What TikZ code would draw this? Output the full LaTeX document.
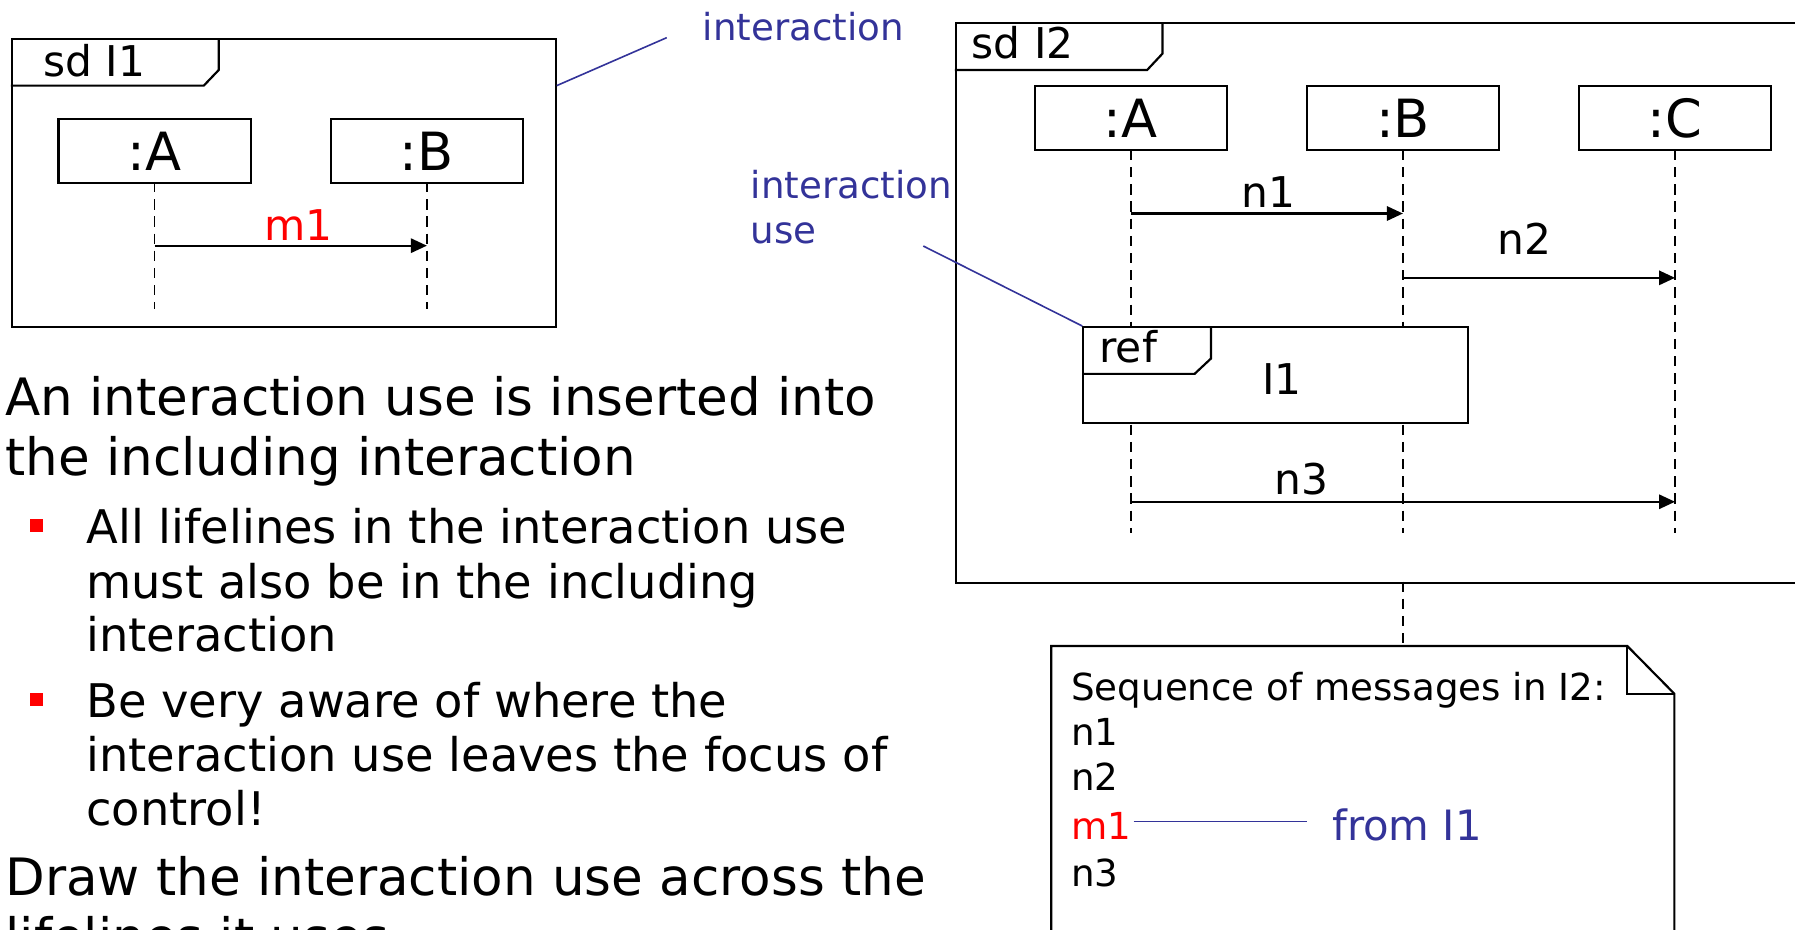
\documentclass[tikz,border=0pt]{standalone}
\usepackage{fontspec}
\setmainfont{DejaVu Sans}
\usetikzlibrary{arrows.meta,calc}
\definecolor{annoblue}{RGB}{51,51,153}
\definecolor{msgred}{RGB}{255,0,0}
\tikzset{
  frame/.style={draw, line width=1.9pt, rectangle, anchor=north west, inner sep=0pt},
  tabline/.style={line width=1.9pt},
  life/.style={draw, line width=1.9pt, fill=white, rectangle, minimum width=168pt,
    minimum height=56pt, inner sep=0pt, font=\fontsize{46}{52}\selectfont},
  lifeline/.style={line width=1.4pt, dash pattern=on 9pt off 6pt},
  msg/.style={line width=1.9pt, -{Triangle[length=14pt,width=12.5pt]}},
  lbl/.style={inner sep=0pt, anchor=base, font=\fontsize{37}{42}\selectfont},
  anno/.style={inner sep=0pt, anchor=base west, text=annoblue, font=\fontsize{32.5}{39}\selectfont},
  annoline/.style={draw=annoblue, line width=1.4pt},
  notetxt/.style={inner sep=0pt, anchor=base west, font=\fontsize{32.5}{39}\selectfont},
  bigtxt/.style={inner sep=0pt, anchor=base west, font=\fontsize{45}{52}\selectfont},
  bultxt/.style={inner sep=0pt, anchor=base west, font=\fontsize{40.5}{47}\selectfont},
  bullet/.style={fill=msgred, rectangle, minimum size=11.5pt, inner sep=0pt},
}
\begin{document}
\begin{tikzpicture}[x=1pt,y=-1pt]
\useasboundingbox (0,0) rectangle (1568,812);
\clip (0,0) rectangle (1568,812);

% ---------- interaction I1 ----------
\node[frame, minimum width=475pt, minimum height=251.6pt] (F1) at (9.4,33.2) {};
\draw[tabline] ($(F1.north west)+(0,41.6)$) -- ++(168.6,0) -- ++(13.1,-13.7)
  -- ($(F1.north west)+(181.7,0)$);
\node[lbl, anchor=base west] (sd1) at (37.7,66.5) {sd I1};

\coordinate (A1end) at (135.1,270.2);
\coordinate (B1end) at (372.9,270.2);
\draw[lifeline] (135.1,159) -- (A1end);
\draw[lifeline] (372.9,159) -- (B1end);
\node[life] (A1) at (135.1,131.9) {:A};
\node[life] (B1) at (372.9,131.9) {:B};

\coordinate (A1m) at (135.1,214.6);
\coordinate (B1m) at (372.9,214.6);
\draw[msg] (A1m) -- (B1m);
\node[lbl, text=msgred] (m1lbl) at (260.5,209.8) {m1};

% ---------- interaction I2 ----------
\node[frame, fill=white, minimum width=820pt, minimum height=488.6pt] (F2) at (834,19.4) {};
\draw[tabline] ($(F2.north west)+(0,41.8)$) -- ++(168,0) -- ++(13.5,-14.4)
  -- ($(F2.north west)+(181.5,0)$);
\node[lbl, anchor=base west] (sd2) at (848.7,51.1) {sd I2};

\coordinate (A2end) at (987.8,465.3);
\coordinate (B2end) at (1225.5,465.3);
\coordinate (C2end) at (1463.2,465.3);
\draw[lifeline] (987.8,131) -- (A2end);
\draw[lifeline] (1225.5,131) -- (B2end);
\draw[lifeline] (1463.2,131) -- (C2end);
\node[life] (A2) at (987.8,103) {:A};
\node[life] (B2) at (1225.5,103) {:B};
\node[life] (C2) at (1463.2,103) {:C};

% messages
\coordinate (A2n1) at (987.8,186.5);
\coordinate (B2n1) at (1225.5,186.5);
\draw[msg] (A2n1) -- (B2n1);
\node[lbl] (n1lbl) at (1108.3,181.5) {n1};

\coordinate (B2n2) at (1225.5,242.7);
\coordinate (C2n2) at (1463.2,242.7);
\draw[msg] (B2n2) -- (C2n2);
\node[lbl] (n2lbl) at (1332,222.6) {n2};

\coordinate (A2n3) at (987.8,438.3);
\coordinate (C2n3) at (1463.2,438.3);
\draw[msg] (A2n3) -- (C2n3);
\node[lbl] (n3lbl) at (1136.9,432.2) {n3};

% interaction use (ref)
\node[frame, fill=white, minimum width=335.8pt, minimum height=83.6pt] (ref) at (945.4,284.8) {};
\draw[tabline] ($(ref.north west)+(0,41.8)$) -- ++(98.1,0) -- ++(14.3,-13.4)
  -- ($(ref.north west)+(112.4,0)$);
\node[lbl, anchor=base west] (reftag) at (960.2,316.9) {ref};
\node[lbl] (refname) at (1119.8,344.3) {I1};

% ---------- annotations ----------
\node[anno] (ann1) at (613.8,35.4) {interaction};
\coordinate (ann1tip) at (582.4,32.9);
\draw[annoline] ($(F1.north east)+(0,41.6)$) -- (ann1tip);

\node[anno] (ann2a) at (655.7,173.3) {interaction};
\node[anno] (ann2b) at (655.7,212.3) {use};
\coordinate (ann2tip) at (806.5,214.9);
\draw[annoline] (ann2tip) -- (ref.north west);

% ---------- note ----------
\coordinate (I2bot) at (1225.6,508);
\coordinate (noteTop) at (1225.6,564.3);
\draw[lifeline] (I2bot) -- (noteTop);
\draw[line width=1.9pt] (918.3,830) -- (918.3,564.3) -- (1421.5,564.3) -- (1462.6,606) -- (1462.6,830);
\draw[line width=1.9pt] (1421.5,564.3) -- (1421.5,606) -- (1462.6,606);

\node[notetxt] (seq) at (935.6,612) {Sequence of messages in I2:};
\node[notetxt] (s1) at (935.6,651.3) {n1};
\node[notetxt] (s2) at (935.6,690.6) {n2};
\node[notetxt, text=msgred] (s3) at (935.6,733.3) {m1};
\node[notetxt] (s4) at (935.6,774.2) {n3};
\node[anno, font=\fontsize{36.5}{42}\selectfont] (from) at (1163.6,733.8) {from I1};
\draw[annoline] ($(s3.base east)+(2,-15.6)$) -- ($(from.base west)+(-22,-16.1)$);

% ---------- text ----------
\node[bigtxt] (t1) at (4.5,362.7) {An interaction use is inserted into};
\node[bigtxt] (t2) at (4.5,415) {the including interaction};
\node[bullet] (b1) at (32,459) {};
\node[bultxt] (t3) at (75.3,475) {All lifelines in the interaction use};
\node[bultxt] (t4) at (75.3,522.6) {must also be in the including};
\node[bultxt] (t5) at (75.3,569.5) {interaction};
\node[bullet] (b2) at (32,611) {};
\node[bultxt] (t6) at (75.3,626.6) {Be very aware of where the};
\node[bultxt] (t7) at (75.3,673.5) {interaction use leaves the focus of};
\node[bultxt] (t8) at (75.3,721.1) {control!};
\node[bigtxt] (t9) at (4.5,782.5) {Draw the interaction use across the};
\node[bigtxt] (t10) at (4.5,834.5) {lifelines it uses};
\end{tikzpicture}
\end{document}
